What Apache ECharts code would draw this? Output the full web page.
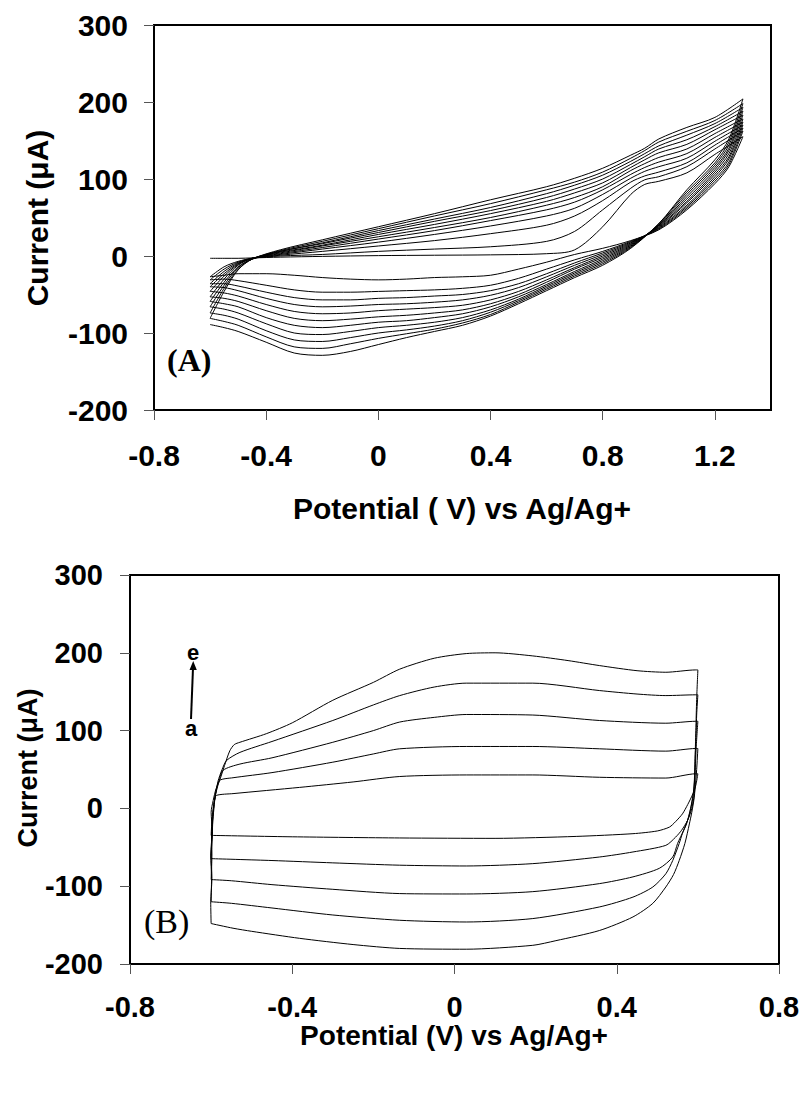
<!DOCTYPE html>
<html>
<head>
<meta charset="utf-8">
<script src="https://cdn.jsdelivr.net/npm/echarts@6/dist/echarts.min.js"></script>
<style>
  html, body { margin: 0; padding: 0; background: #fff; }
  #chart { width: 804px; height: 1097px; }
</style>
</head>
<body>
<div id="chart"></div>
<script>
// ---------- Panel (A): repeated potential cycling, -0.6 V to 1.3 V ----------
// Anodic (forward) sweeps share one potential grid; cathodic (reverse) sweeps share another.
const potFwdA = [-0.6, -0.55, -0.5, -0.45, -0.35, -0.2, 0, 0.2, 0.4, 0.6, 0.7, 0.8, 0.9, 0.95, 1.0, 1.1, 1.2, 1.3];
const curFwdA = [
  [-3, -3, -3, -2.5, -1.5, -0.5, 0.5, 1, 1.5, 3, 8, 38, 80, 93, 97, 108, 132, 155],
  [-27, -14, -7, -3, 0, 2, 6, 9, 12, 19, 32, 60, 88, 99, 103, 116, 139, 162],
  [-31, -17, -8, -3, 1, 6, 13, 20, 29, 40, 52, 72, 96, 104, 109, 121, 144, 166],
  [-36, -20, -9, -3, 2, 9, 18, 28, 39, 52, 62, 80, 101, 110, 116, 127, 149, 170],
  [-40, -23, -10, -3, 3, 11, 22, 33, 46, 60, 70, 86, 106, 115, 122, 133, 154, 174],
  [-46, -26, -11, -3, 4, 13, 25, 37, 50, 66, 76, 90, 111, 120, 128, 139, 159, 178],
  [-53, -30, -12, -3, 5, 14, 28, 41, 55, 71, 82, 95, 115, 125, 134, 145, 164, 183],
  [-59, -34, -14, -4, 6, 16, 30.5, 45, 59, 76, 87, 100, 119, 129, 139, 151, 168, 188],
  [-66, -38, -15, -4, 6, 17, 33, 48, 63, 81, 92, 105, 123, 133, 143, 157, 172, 193],
  [-74, -42, -17, -4, 7, 19, 35.5, 52, 68, 86, 96, 109, 127, 137, 148, 162, 176, 198],
  [-81, -46, -18, -4, 8, 21, 38, 55, 73, 90, 101, 114, 131, 140, 152, 167, 180, 204]
];
const potRevA = [1.3, 1.25, 1.2, 1.1, 1.0, 0.9, 0.8, 0.7, 0.6, 0.5, 0.4, 0.3, 0.2, 0.1, 0, -0.1, -0.2, -0.3, -0.4, -0.5, -0.55, -0.6];
const curRevA = [
  [155, 116, 94, 60, 34, 20, 10, 2, -8, -17, -25, -27, -28, -30, -31, -30, -28, -25, -23, -23, -25, -27],
  [162, 119, 97, 62, 35, 19, 6, -5, -17, -29, -38, -42, -44, -45, -46, -47, -47, -44, -38, -32, -30, -31],
  [166, 122, 100, 64, 36, 18, 4, -9, -23, -36, -45, -50, -52, -54, -55, -57, -57, -54, -47, -39, -36, -36],
  [170, 126, 103, 66, 37, 17, 2, -12, -27, -41, -51, -57, -60, -62, -63, -65, -66, -63, -55, -45, -41, -40],
  [174, 129, 106, 69, 38, 16, 0, -15, -31, -46, -57, -64, -67, -69, -71, -74, -75, -72, -63, -52, -48, -46],
  [178, 133, 109, 71, 39, 15, -2, -17, -34, -50, -62, -70, -74, -77, -79, -82, -84, -81, -71, -59, -55, -53],
  [183, 137, 112, 74, 40, 14, -4, -20, -37, -53, -66, -75, -80, -84, -86, -90, -93, -90, -80, -66, -62, -59],
  [188, 140, 115, 77, 40, 13, -6, -22, -39, -56, -70, -80, -86, -90, -93, -98, -102, -100, -88, -74, -69, -66],
  [193, 144, 118, 80, 41, 12, -8, -24, -41, -58, -73, -84, -91, -96, -100, -106, -111, -109, -97, -82, -77, -74],
  [198, 148, 121, 83, 42, 11, -10, -26, -43, -60, -76, -87, -95, -101, -107, -114, -120, -118, -105, -90, -85, -81],
  [204, 152, 125, 86, 42, 10, -12, -28, -45, -62, -78, -90, -98, -106, -115, -124, -129, -126, -112, -98, -93, -89]
];
const ticksA_x = [-0.8, -0.4, 0, 0.4, 0.8, 1.2];

// ---------- Panel (B): capacitive loops a..e between -0.6 V and 0.6 V ----------
// Each loop is split into its upper sweep (left -> right) and lower sweep (right -> left),
// as [potential (V), current (uA)] pairs.
const upperB_a = [[-0.6,-34.7],[-0.598,-15],[-0.595,0],[-0.592,10],[-0.587,16.7],[-0.546,19],[-0.382,27],[-0.25,34],[-0.135,41],[0.029,43],[0.193,43],[0.357,40],[0.521,39],[0.595,44.5],[0.6,44.5]];
const lowerB_a = [[0.6,44.5],[0.595,30],[0.588,19],[0.575,5],[0.562,-7],[0.545,-17],[0.53,-24],[0.5,-29],[0.44,-32.5],[0.3,-36],[0.1,-38.5],[-0.135,-38],[-0.4,-36.5],[-0.6,-34.7]];
const upperB_b = [[-0.6,-64.6],[-0.598,-40],[-0.596,-15],[-0.593,5],[-0.588,22],[-0.579,36],[-0.546,39.4],[-0.45,46],[-0.3,59.4],[-0.2,70],[-0.135,76.6],[0.029,79.6],[0.193,79.6],[0.357,76.6],[0.521,73.6],[0.595,77],[0.6,77]];
const lowerB_b = [[0.6,77],[0.597,50],[0.593,25],[0.585,0],[0.575,-15],[0.56,-28],[0.545,-37],[0.521,-47.5],[0.44,-56],[0.357,-62.5],[0.193,-71],[0.029,-74],[-0.135,-73],[-0.3,-70],[-0.45,-67],[-0.6,-64.6]];
const upperB_c = [[-0.6,-91.5],[-0.598,-60],[-0.599,-30],[-0.594,-5],[-0.59,15],[-0.582,32],[-0.571,48.8],[-0.529,57],[-0.45,65],[-0.3,85],[-0.2,100],[-0.135,111],[-0.05,117],[0.029,120.7],[0.193,120],[0.357,113],[0.521,109.5],[0.595,112],[0.6,112]];
const lowerB_c = [[0.6,112],[0.596,80],[0.593,45],[0.588,15],[0.578,-10],[0.565,-28],[0.55,-45],[0.538,-62.5],[0.505,-77],[0.44,-88],[0.357,-96.7],[0.193,-107],[0.029,-110],[-0.135,-109.5],[-0.3,-104],[-0.45,-98],[-0.55,-93],[-0.6,-91.5]];
const upperB_d = [[-0.6,-120],[-0.599,-90],[-0.601,-60],[-0.597,-30],[-0.595,-5],[-0.59,15],[-0.583,35],[-0.573,50],[-0.562,61.6],[-0.529,72],[-0.45,86],[-0.3,113],[-0.2,133],[-0.135,145],[-0.05,156],[0.029,161],[0.193,161],[0.357,151.5],[0.45,147],[0.521,145],[0.595,146],[0.6,146]];
const lowerB_d = [[0.6,146],[0.597,120],[0.596,100],[0.593,60],[0.59,25],[0.582,0],[0.572,-20],[0.562,-32],[0.554,-45],[0.538,-67],[0.521,-84],[0.489,-101],[0.44,-114],[0.357,-126.7],[0.193,-141.6],[0.029,-146],[-0.135,-143.8],[-0.3,-137],[-0.45,-128],[-0.55,-122],[-0.6,-120]];
const upperB_e = [[-0.6,-148],[-0.601,-120],[-0.598,-90],[-0.6,-60],[-0.597,-30],[-0.6,-5],[-0.595,10],[-0.588,25],[-0.579,36],[-0.567,55],[-0.554,74],[-0.543,82],[-0.529,85],[-0.464,96],[-0.4,110],[-0.3,139],[-0.2,162],[-0.135,179],[-0.05,193],[0.029,199],[0.1,200],[0.193,196],[0.28,190],[0.357,183.6],[0.45,177],[0.521,175],[0.595,178],[0.6,178]];
const lowerB_e = [[0.6,178],[0.597,140],[0.595,100],[0.593,60],[0.592,19],[0.585,-5],[0.579,-20],[0.568,-45],[0.554,-67],[0.54,-85],[0.521,-101],[0.489,-122],[0.44,-139.5],[0.357,-157],[0.25,-170],[0.193,-176],[0.029,-181],[-0.135,-180],[-0.25,-175],[-0.382,-167],[-0.5,-158],[-0.546,-154],[-0.6,-148]];
const sweepsB = [upperB_a, lowerB_a, upperB_b, lowerB_b, upperB_c, lowerB_c, upperB_d, lowerB_d, upperB_e, lowerB_e];

const SANS = "'Liberation Sans', Arial, sans-serif";
const SERIF = "'Liberation Serif', 'Times New Roman', serif";

function zip(xs, ys) { return xs.map((x, i) => [x, ys[i]]); }

const traceStyle = { color: '#000', width: 1 };
const series = [];
curFwdA.forEach((ys) => series.push({
  type: 'line', xAxisIndex: 0, yAxisIndex: 0, data: zip(potFwdA, ys),
  symbol: 'none', smooth: 0.3, lineStyle: traceStyle, silent: true
}));
curRevA.forEach((ys) => series.push({
  type: 'line', xAxisIndex: 0, yAxisIndex: 0, data: zip(potRevA, ys),
  symbol: 'none', smooth: 0.3, lineStyle: traceStyle, silent: true
}));
sweepsB.forEach((pts) => series.push({
  type: 'line', xAxisIndex: 1, yAxisIndex: 1, data: pts,
  symbol: 'none', smooth: 0.25, lineStyle: traceStyle, silent: true
}));

function valueAxis(gridIndex, min, max, interval, margin, fontSize) {
  return {
    type: 'value', gridIndex, min, max, interval,
    axisLine: { show: true, onZero: false, lineStyle: { color: '#000', width: 2 } },
    axisTick: { show: true, inside: false, length: 10, lineStyle: { color: '#555', width: 1 } },
    axisLabel: { margin, fontSize, fontWeight: 'bold', fontFamily: SANS, color: '#000' },
    splitLine: { show: false }
  };
}

const xA = valueAxis(0, -0.8, 1.4, 0.4, 30, 30);
xA.axisTick.customValues = ticksA_x;
xA.axisLabel.customValues = ticksA_x;

const option = {
  animation: false,
  backgroundColor: '#fff',
  grid: [
    { left: 154, top: 25, width: 617, height: 385, show: true, borderColor: '#000', borderWidth: 2 },
    { left: 130, top: 575, width: 649, height: 389, show: true, borderColor: '#000', borderWidth: 2 }
  ],
  xAxis: [
    xA,
    valueAxis(1, -0.8, 0.8, 0.4, 28, 29)
  ],
  yAxis: [
    valueAxis(0, -200, 300, 100, 26, 30),
    valueAxis(1, -200, 300, 100, 27, 29)
  ],
  series,
  graphic: [
    { type: 'text', x: 462, y: 508, style: { text: 'Potential ( V) vs Ag/Ag+', font: "bold 30px " + SANS, fill: '#000', textAlign: 'center', textVerticalAlign: 'middle' } },
    { type: 'text', x: 37, y: 218, rotation: Math.PI / 2, style: { text: 'Current (\u03bcA)', font: "bold 30px " + SANS, fill: '#000', textAlign: 'center', textVerticalAlign: 'middle' } },
    { type: 'text', x: 167, y: 360, style: { text: '(A)', font: "bold 32px " + SERIF, fill: '#000', textAlign: 'left', textVerticalAlign: 'middle' } },
    { type: 'text', x: 454, y: 1035, style: { text: 'Potential (V) vs Ag/Ag+', font: "bold 28px " + SANS, fill: '#000', textAlign: 'center', textVerticalAlign: 'middle' } },
    { type: 'text', x: 28, y: 768, rotation: Math.PI / 2, style: { text: 'Current (\u03bcA)', font: "bold 27px " + SANS, fill: '#000', textAlign: 'center', textVerticalAlign: 'middle' } },
    { type: 'text', x: 144, y: 921, style: { text: '(B)', font: "34px " + SERIF, fill: '#000', textAlign: 'left', textVerticalAlign: 'middle' } },
    { type: 'text', x: 193, y: 652, style: { text: 'e', font: "bold 22px " + SANS, fill: '#000', textAlign: 'center', textVerticalAlign: 'middle' } },
    { type: 'text', x: 191, y: 728, style: { text: 'a', font: "bold 22px " + SANS, fill: '#000', textAlign: 'center', textVerticalAlign: 'middle' } },
    { type: 'line', shape: { x1: 191, y1: 719, x2: 193, y2: 668 }, style: { stroke: '#000', lineWidth: 2 } },
    { type: 'polygon', shape: { points: [[193.2, 661], [189.5, 670], [196.8, 670]] }, style: { fill: '#000' } }
  ]
};

const chart = echarts.init(document.getElementById('chart'), null, { renderer: 'svg', width: 804, height: 1097 });
chart.setOption(option);
</script>
</body>
</html>
